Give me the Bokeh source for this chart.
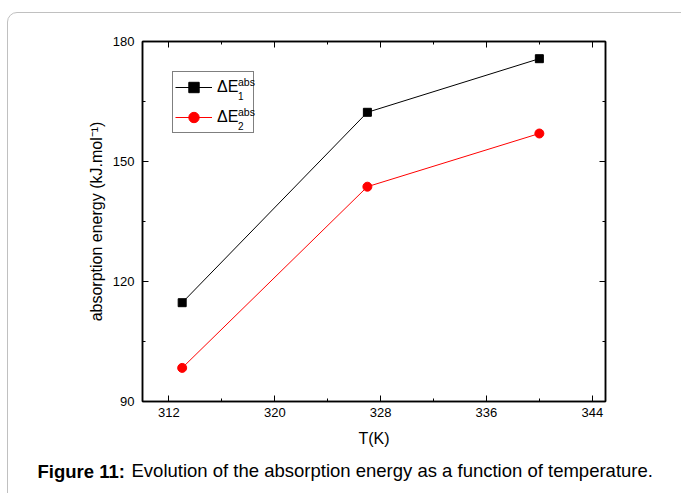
from bokeh.plotting import figure
from bokeh.models import (Range1d, LinearAxis, FixedTicker, Legend, LegendItem,
                          Label, InlineStyleSheet)
from bokeh.embed import file_html
from bokeh.resources import INLINE

# ---- data ----
T = [313, 327, 340]
E1 = [114.7, 162.3, 175.7]
E2 = [98.4, 143.7, 157.0]
x_ticks = [312, 320, 328, 336, 344]
x_minor = [316, 324, 332, 340]
y_ticks = [90, 120, 150, 180]
y_minor = [105, 135, 165]
caption_bold = "Figure 11:"
caption_text = "Evolution of the absorption energy as a function of temperature."

FONT = "Liberation Sans"
W, H = 681, 493
FL, FR, FT, FB = 142, 605, 41, 401  # frame edges in canvas px
BELOW_BOTTOM = 474   # measured bottom of the caption panel below the x axis
ABOVE_BOTTOM = 49    # measured reference of the caption panel above the top axis
CAP_BASE = 476       # caption baseline (canvas px)

p = figure(width=W, height=H, output_backend="svg", toolbar_location=None,
           x_range=Range1d(310, 345), y_range=Range1d(90, 180),
           min_border_left=FL, min_border_right=W - FR,
           min_border_top=FT, min_border_bottom=H - FB)
p.grid.visible = False
p.outline_line_color = "black"
p.outline_line_width = 1.5
p.background_fill_color = "white"
p.border_fill_color = "white"
p.stylesheets = [InlineStyleSheet(css="""
:host { position: relative; overflow: hidden; }
:host::after { content: ""; position: absolute; left: 7px; top: 12px;
  width: 760px; height: 560px; border: 1px solid #c0c0c0; border-radius: 10px;
  box-sizing: border-box; pointer-events: none; }
""")]

def style_axis(ax, show_labels=True):
    ax.axis_line_color = "black"
    ax.axis_line_width = 1.5
    ax.major_tick_in = 6
    ax.major_tick_out = 0
    ax.minor_tick_in = 3
    ax.minor_tick_out = 0
    ax.major_tick_line_color = "black"
    ax.minor_tick_line_color = "black"
    ax.major_label_text_font = FONT
    ax.major_label_text_font_size = "13px" if show_labels else "1px"
    ax.major_label_text_color = "black" if show_labels else None
    ax.axis_label_text_font = FONT
    ax.axis_label_text_font_size = "16px"
    ax.axis_label_text_font_style = "normal"
    ax.axis_label_text_color = "black"

xa = p.xaxis[0]
xa.ticker = FixedTicker(ticks=x_ticks, minor_ticks=x_minor)
style_axis(xa)
xa.axis_label = "T(K)"
xa.major_label_standoff = 6
xa.axis_label_standoff = 10

ya = p.yaxis[0]
ya.ticker = FixedTicker(ticks=y_ticks, minor_ticks=y_minor)
style_axis(ya)
ya.axis_label = "absorption energy (kJ.mol\u207b\u00b9)"
ya.major_label_standoff = 8
ya.axis_label_standoff = 5

top = LinearAxis(ticker=FixedTicker(ticks=x_ticks, minor_ticks=x_minor))
style_axis(top, show_labels=False)
p.add_layout(top, "above")
right = LinearAxis(ticker=FixedTicker(ticks=y_ticks, minor_ticks=y_minor))
style_axis(right, show_labels=False)
p.add_layout(right, "right")

l1 = p.line(T, E1, line_color="black", line_width=1)
s1 = p.scatter(T, E1, marker="square", size=8, fill_color="black", line_color="black")
l2 = p.line(T, E2, line_color="red", line_width=1)
s2 = p.scatter(T, E2, marker="circle", size=9, fill_color="red", line_color="red")

# legend box: canvas x 172..252, y ~69..128, entries centred at y 83 and 113
leg = Legend(items=[LegendItem(label="\u0394E", renderers=[l1, s1]),
                    LegendItem(label="\u0394E", renderers=[l2, s2])],
             location=(172 - FL, FB - 132.5),
             border_line_color="black", border_line_width=1,
             background_fill_alpha=0,
             label_text_font=FONT, label_text_font_size="16px",
             label_text_color="black",
             glyph_width=37, glyph_height=26, label_height=26, label_width=34,
             padding=2, spacing=4, margin=0, label_standoff=5)
p.add_layout(leg)

def frame_label(text, cx, cy, size):
    p.add_layout(Label(x=cx - FL, y=FB - cy, x_units="screen", y_units="screen",
                       text=text, text_font=FONT, text_font_size=size,
                       text_baseline="alphabetic", text_align="left",
                       text_color="black", level="overlay"))

for c, sub in [(83.3, "1"), (113.3, "2")]:
    frame_label("abs", 237.5, c - 1.6, "10.5px")
    frame_label(sub, 237.5, c + 12.5, "10px")

# caption: regular part in a panel below, bold part in a panel above
p.add_layout(Label(x=131 - FL, y=BELOW_BOTTOM - (CAP_BASE - 2), x_units="screen", y_units="screen",
                   text=caption_text, text_font=FONT, text_font_size="18.5px",
                   text_baseline="alphabetic", text_align="left", text_color="black"),
             "below")
p.add_layout(Label(x=37 - FL, y=ABOVE_BOTTOM - (CAP_BASE + 2.5), x_units="screen", y_units="screen",
                   text=caption_bold, text_font=FONT, text_font_size="18.5px",
                   text_font_style="bold",
                   text_baseline="alphabetic", text_align="left", text_color="black"),
             "above")

open("out.html", "w").write(file_html(p, INLINE))
